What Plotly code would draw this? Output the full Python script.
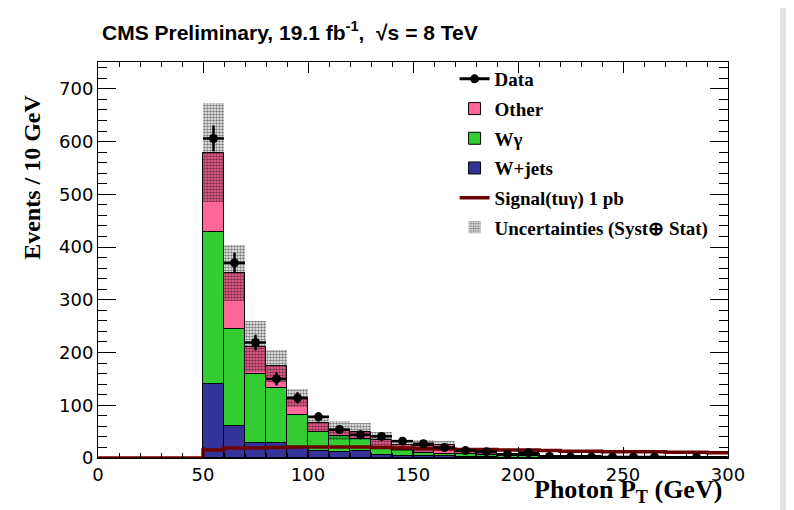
import math
import plotly.graph_objects as go

# ---------------- data ----------------
bin_low = [0, 10, 20, 30, 40, 50, 60, 70, 80, 90, 100, 110, 120, 130, 140,
           150, 160, 170, 180, 190, 200, 210, 220, 230, 240, 250, 260, 270, 280, 290]
bin_width = 10

wjets = [0, 0, 0, 0, 0, 140, 60, 29, 28, 19, 13, 12, 14, 6, 4,
         3, 4, 1, 1, 0.5, 0.5, 0.3, 0.2, 0.2, 0.1, 0.1, 0.1, 0.1, 0.1, 0.1]
wgamma = [0, 0, 0, 0, 0, 289, 185, 130, 104, 63, 36, 30, 22, 12, 12,
          7, 4, 6, 5, 3.5, 2.5, 1.7, 1.8, 1.3, 0.9, 0.9, 0.9, 0.9, 0.7, 0.7]
other = [0, 0, 0, 0, 0, 150, 106, 52, 43, 32, 18, 10, 14, 16, 8,
         12, 16, 5, 4, 4, 3, 2, 1, 1.5, 1, 1, 1, 0.5, 0.7, 0.3]
unc = [0, 0, 0, 0, 0, 94, 53, 48, 30, 17, 15, 18, 16, 16, 11,
       12, 8, 4, 3, 2, 2, 2, 1.5, 1.2, 1, 1, 1, 0.8, 0.8, 0.6]
data = [None, None, None, None, None, 606, 370, 219, 150, 114, 78, 54, 44, 41, 32,
        27, 20, 14, 12, 7, 10, 3, 2, 2, 2, 2, 2, None, 1, None]
signal = [0, 0, 0, 0, 0, 15, 19, 19, 20, 21, 21, 21, 21, 20, 19,
          18, 17, 16, 16, 15, 15, 14, 13, 13, 12, 12, 12, 11, 11, 10]

x_ticks = [0, 50, 100, 150, 200, 250, 300]
y_ticks = [0, 100, 200, 300, 400, 500, 600, 700]

# ---------------- derived ----------------
centers = [b + bin_width / 2 for b in bin_low]
base_wg = list(wjets)
base_other = [a + b for a, b in zip(wjets, wgamma)]
total = [a + b + c for a, b, c in zip(wjets, wgamma, other)]


def nz(v):
    return [x if x else None for x in v]


fig = go.Figure()

outline = dict(color="black", width=1)
fig.add_bar(x=centers, y=nz(wjets), base=[0] * len(wjets), width=bin_width,
            marker=dict(color="#333399", line=outline),
            name="W+jets", legendrank=4, legendgroup="wj")
fig.add_bar(x=centers, y=nz(wgamma), base=base_wg, width=bin_width,
            marker=dict(color="#33cc33", line=outline),
            name="Wγ", legendrank=3, legendgroup="wg")
fig.add_bar(x=centers, y=nz(other), base=base_other, width=bin_width,
            marker=dict(color="#ff6699", line=outline),
            name="Other", legendrank=2, legendgroup="ot")
fig.add_bar(x=centers, y=nz([2 * u for u in unc]),
            base=[t - u for t, u in zip(total, unc)], width=bin_width,
            marker=dict(color="rgba(0,0,0,0)",
                        line=dict(color="black", width=0),
                        pattern=dict(shape=".", fgcolor="black",
                                     bgcolor="rgba(255,255,255,0)",
                                     size=3, solidity=0.6, fillmode="overlay")),
            name="Uncertainties (Syst⊕ Stat)", legendrank=6, legendgroup="un")

fig.add_scatter(x=bin_low + [bin_low[-1] + bin_width], y=signal + [signal[-1]],
                mode="lines", line=dict(color="#6b0000", width=3.5, shape="hv"),
                name="Signal(tuγ) 1 pb", legendrank=5, legendgroup="sg")

err = [math.sqrt(d) if d else None for d in data]
fig.add_scatter(x=centers, y=data, mode="markers",
                marker=dict(color="black", size=9),
                error_y=dict(type="data", array=err, color="black", thickness=2.5, width=0),
                error_x=dict(type="constant", value=bin_width / 2, color="black",
                             thickness=2.5, width=0),
                showlegend=False, name="Data")
# legend entry for data (line + marker)
fig.add_scatter(x=[None], y=[None], mode="lines+markers",
                marker=dict(color="black", size=9), line=dict(color="black", width=3),
                name="Data", legendrank=1, legendgroup="da")

tickfont = dict(family="DejaVu Sans", size=18, color="black")
fig.update_layout(
    width=786, height=502,
    margin=dict(l=90, r=66, t=54, b=52),
    paper_bgcolor="#e3e3e3", plot_bgcolor="white",
    barmode="overlay", bargap=0,
    showlegend=True,
    legend=dict(x=0.566, y=1.005, xanchor="left", yanchor="top",
                bgcolor="rgba(0,0,0,0)", tracegroupgap=2,
                font=dict(family="Liberation Serif", size=19, color="black", weight="bold")),
    xaxis=dict(range=[0, 300], tickvals=x_ticks, ticks="inside", ticklen=11,
               tickcolor="black", tickwidth=1, showline=True, linecolor="black",
               linewidth=1, mirror="allticks", showgrid=False, zeroline=False,
               tickfont=tickfont,
               minor=dict(dtick=10, ticks="inside", ticklen=5, tickcolor="black",
                          showgrid=False)),
    yaxis=dict(range=[0, 751], tickvals=y_ticks, ticks="inside", ticklen=18,
               tickcolor="black", tickwidth=1, showline=True, linecolor="black",
               linewidth=1, mirror="allticks", showgrid=False, zeroline=False,
               tickfont=tickfont,
               minor=dict(dtick=20, ticks="inside", ticklen=9, tickcolor="black",
                          showgrid=False)),
    shapes=[dict(type="rect", xref="paper", yref="paper", x0=-0.15, x1=1.0825,
                 y0=-0.14, y1=1.14, fillcolor="white", line=dict(width=0),
                 layer="below")],
    annotations=[
        dict(text="CMS Preliminary, 19.1 fb<sup>-1</sup>,  √s = 8 TeV",
             xref="paper", yref="paper", x=0.003, y=1.078, xanchor="left",
             yanchor="middle", showarrow=False,
             font=dict(family="Liberation Sans", size=21,
                       color="black", weight="bold")),
        dict(text="Events / 10 GeV", xref="paper", yref="paper", x=-0.104, y=0.922,
             xanchor="center", yanchor="top", textangle=-90, showarrow=False,
             font=dict(family="Liberation Serif", size=24, color="black", weight="bold")),
        dict(text="Photon P<sub>T</sub> (GeV)", xref="paper", yref="paper",
             x=0.9937, y=-0.128, xanchor="right", yanchor="bottom", showarrow=False,
             font=dict(family="Liberation Serif", size=26, color="black", weight="bold")),
    ],
)

fig.write_html("out.html")
